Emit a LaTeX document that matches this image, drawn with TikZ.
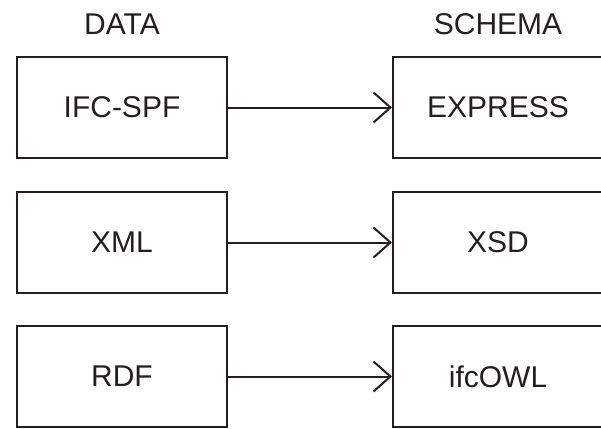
\documentclass[tikz,border=0pt]{standalone}
\usepackage{fontspec}
\setmainfont{Liberation Sans}
\usetikzlibrary{arrows.meta}
\definecolor{ink}{HTML}{231F20}
\begin{document}
\begin{tikzpicture}[x=1pt,y=-1pt,
  box/.style={draw=ink,line width=2pt,minimum width=210pt,inner sep=0pt,font=\fontsize{30}{30}\selectfont,text=ink},
  head/.style={font=\fontsize{30}{30}\selectfont,text=ink,inner sep=0pt},
  conn/.style={draw=ink,line width=2pt,-{Straight Barb[length=17pt,width=30pt,line width=2pt]}}]
\path[use as bounding box,clip] (0,0) rectangle (601,428);
\node[head] (hd) at (122,24) {DATA};
\node[head] (hs) at (498,24) {SCHEMA};
\node[box,minimum height=101pt] (ifc) at (122,107.5) {IFC-SPF};
\node[box,minimum height=101pt] (xml) at (122,242.5) {XML};
\node[box,minimum height=101pt] (rdf) at (122,376.5) {RDF};
\node[box,minimum height=101pt] (exp) at (498,107.5) {EXPRESS};
\node[box,minimum height=101pt] (xsd) at (498,242.5) {XSD};
\node[box,minimum height=101pt] (owl) at (498,376.5) {ifcOWL};
\draw[conn] (ifc) -- (exp);
\draw[conn] (xml) -- (xsd);
\draw[conn] (rdf) -- (owl);
\end{tikzpicture}
\end{document}
